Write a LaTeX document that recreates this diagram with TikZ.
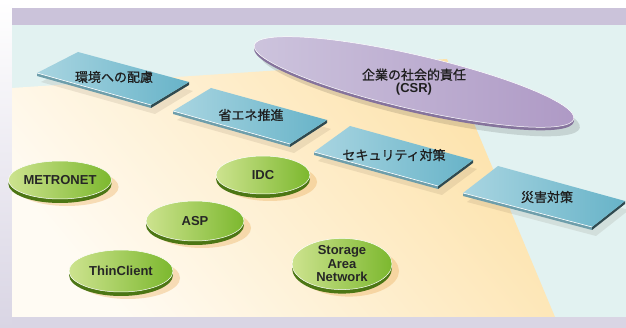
\documentclass[tikz,border=0pt]{standalone}
\usepackage{fontspec}
\setmainfont{Liberation Sans}
\newfontfamily\jpfont[FakeBold=0.9]{Noto Sans CJK JP}
\usetikzlibrary{shapes.geometric,shadows}

\definecolor{bandpurple}{HTML}{CBC3DA}
\definecolor{panelcyan}{HTML}{E2F2F1}
\definecolor{floorlight}{HTML}{FFFBF3}
\definecolor{floordeep}{HTML}{FDE2AA}
\definecolor{sidelav}{HTML}{D9D5E4}
\definecolor{slablight}{HTML}{A9D5E1}
\definecolor{slabdeep}{HTML}{67B3C8}
\definecolor{slabfront}{HTML}{6E9EAB}
\definecolor{slabright}{HTML}{2F4A50}
\definecolor{disclight}{HTML}{CDE38F}
\definecolor{discdeep}{HTML}{7CB82E}
\definecolor{discrim}{HTML}{4C7614}
\definecolor{discshade}{HTML}{E9A955}
\definecolor{csrlight}{HTML}{CDC4DD}
\definecolor{csrdeep}{HTML}{AE99C5}
\definecolor{csrrim}{HTML}{85739C}

\tikzset{
  slabtop/.style={left color=slablight, right color=slabdeep},
  slabfrontside/.style={fill=slabfront},
  slabrightside/.style={fill=slabright},
  slabshadow/.style={fill=black!70!brown, opacity=0.09},
  slabedge/.style={draw=white, line width=0.6pt},
  slablabel/.style={font=\jpfont\fontsize{13}{13}\selectfont, text=black!88},
  disc/.style={ellipse, inner sep=0pt, align=center,
    left color=disclight, right color=discdeep, draw=white, line width=0.5pt,
    font=\bfseries\fontsize{13}{13.5}\selectfont, text=black!85,
    general shadow={fill=discshade, opacity=0.35, shadow xshift=7pt, shadow yshift=-7pt},
    general shadow={fill=discrim, shadow yshift=-4pt}},
  csr/.style={ellipse, inner sep=0pt, minimum width=328pt, minimum height=54pt,
    left color=csrlight, right color=csrdeep, draw=white, line width=0.5pt,
    general shadow={fill=black, opacity=0.12, shadow xshift=6pt, shadow yshift=-9pt},
    general shadow={fill=csrrim, shadow yshift=-3pt}},
  csrlabel/.style={align=center, font=\jpfont\fontsize{13}{13}\selectfont, text=black!88}
}

\begin{document}
\begin{tikzpicture}[x=1pt,y=-1pt]
\useasboundingbox (0,0) rectangle (626,328);
% frame
\fill[white] (0,0) rectangle (626,328);
\shade[top color=white, bottom color=sidelav] (0,0) rectangle (12,328);
\fill[sidelav] (12,317) rectangle (626,328);
\fill[bandpurple] (12,8) rectangle (626,25);
\fill[panelcyan] (12,25) rectangle (626,317);
% floor
\shade[top color=floordeep, bottom color=floorlight, shading angle=-50]
  (12,88) -- (447,59) -- (555,317) -- (12,317) -- cycle;

% slab 1
\fill[slabshadow, shift={(4,9)}] (37,73) -- (78,52) -- (189,82) -- (151,105) -- cycle;
\fill[slabfrontside] (37,73) -- (151,105) -- (151,108) -- (37,76) -- cycle;
\fill[slabrightside] (151,105) -- (189,82) -- (189,85) -- (151,108) -- cycle;
\shade[slabtop] (37,73) -- (78,52) -- (189,82) -- (151,105) -- cycle;
\draw[slabedge] (37,73) -- (151,105);
\node[slablabel] (env) at (114,77) {環境への配慮};

% slab 2
\fill[slabshadow, shift={(4,9)}] (173,111) -- (211,88) -- (327,120) -- (290,144) -- cycle;
\fill[slabfrontside] (173,111) -- (290,144) -- (290,147) -- (173,114) -- cycle;
\fill[slabrightside] (290,144) -- (327,120) -- (327,123) -- (290,147) -- cycle;
\shade[slabtop] (173,111) -- (211,88) -- (327,120) -- (290,144) -- cycle;
\draw[slabedge] (173,111) -- (290,144);
\node[slablabel] (energy) at (251,115) {省エネ推進};

% slab 3
\fill[slabshadow, shift={(4,9)}] (314,152) -- (350,126) -- (473,160) -- (438,186) -- cycle;
\fill[slabfrontside] (314,152) -- (438,186) -- (438,189) -- (314,155) -- cycle;
\fill[slabrightside] (438,186) -- (473,160) -- (473,163) -- (438,189) -- cycle;
\shade[slabtop] (314,152) -- (350,126) -- (473,160) -- (438,186) -- cycle;
\draw[slabedge] (314,152) -- (438,186);
\node[slablabel] (security) at (394,155) {セキュリティ対策};

% slab 4
\fill[slabshadow, shift={(4,9)}] (463,193) -- (498,166) -- (625,201) -- (592,227) -- cycle;
\fill[slabfrontside] (463,193) -- (592,227) -- (592,230) -- (463,196) -- cycle;
\fill[slabrightside] (592,227) -- (625,201) -- (625,204) -- (592,230) -- cycle;
\shade[slabtop] (463,193) -- (498,166) -- (625,201) -- (592,227) -- cycle;
\draw[slabedge] (463,193) -- (592,227);
\node[slablabel] (disaster) at (547,197) {災害対策};

% CSR
\node[csr, rotate=-13] (csr) at (414,82) {};
\node[csrlabel] (csrtext) at (csr.center) {企業の社会的責任\\{\rmfamily\bfseries (CSR)}};

% services
\node[disc, minimum width=96pt, minimum height=38pt] (metronet) at (60,180) {METRONET};
\node[disc, minimum width=94pt, minimum height=38pt] (idc) at (263,175) {IDC};
\node[disc, minimum width=98pt, minimum height=40pt] (asp) at (195,221) {ASP};
\node[disc, minimum width=104pt, minimum height=42pt] (thin) at (121,271) {ThinClient};
\node[disc, minimum width=100pt, minimum height=44pt] (san) at (342,264) {Storage\\Area\\Network};
\end{tikzpicture}
\end{document}
